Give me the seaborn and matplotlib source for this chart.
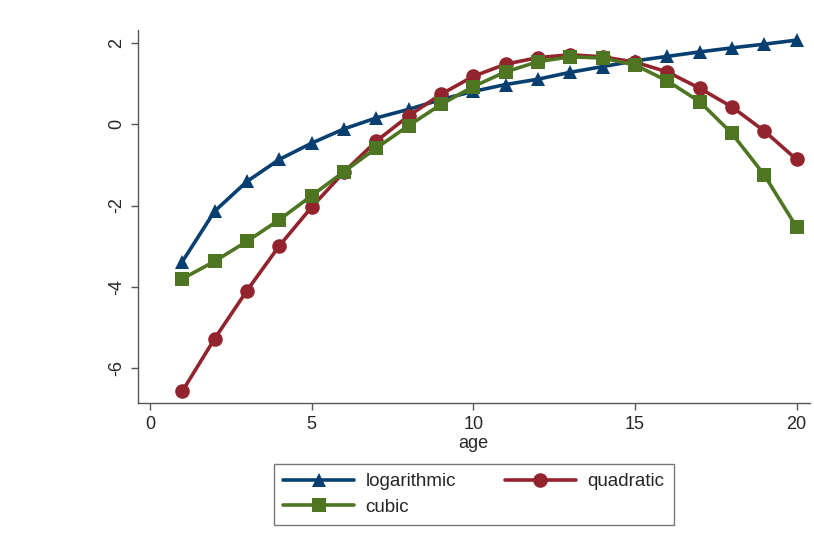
import matplotlib
matplotlib.use("Agg")
import matplotlib.pyplot as plt
import numpy as np
import pandas as pd
import seaborn as sns

# values
age = list(range(1, 21))
logarithmic = [-3.38, -2.14, -1.41, -0.87, -0.47, -0.12, 0.15, 0.36, 0.60, 0.80,
               0.97, 1.10, 1.27, 1.41, 1.55, 1.66, 1.77, 1.87, 1.96, 2.06]
quadratic = [-6.56, -5.27, -4.09, -2.99, -2.04, -1.18, -0.42, 0.20, 0.73, 1.17,
             1.47, 1.63, 1.70, 1.65, 1.52, 1.28, 0.88, 0.42, -0.17, -0.87]
cubic = [-3.80, -3.37, -2.88, -2.35, -1.76, -1.17, -0.59, -0.04, 0.48, 0.92,
         1.28, 1.53, 1.65, 1.62, 1.45, 1.06, 0.55, -0.23, -1.25, -2.53]

series = ["logarithmic", "quadratic", "cubic"]
colors = {"logarithmic": "#063f70", "quadratic": "#93232c", "cubic": "#4e7522"}
markers = {"logarithmic": "^", "quadratic": "o", "cubic": "s"}

df = pd.DataFrame({
    "age": age * 3,
    "value": logarithmic + quadratic + cubic,
    "model": ["logarithmic"] * 20 + ["quadratic"] * 20 + ["cubic"] * 20,
})

sns.set_theme(style="white")
plt.rcParams['font.family'] = ['Liberation Sans', 'DejaVu Sans']

fig = plt.figure(figsize=(8.14, 5.44), dpi=100)
ax = fig.add_axes([0.1695, 0.259, 0.825, 0.686])

sns.lineplot(data=df, x="age", y="value", hue="model", style="model",
             hue_order=series, style_order=series, palette=colors,
             markers=markers, dashes=False, linewidth=2.6, markersize=10.5,
             markeredgewidth=0, ax=ax, legend=True)

ax.set_xlim(-0.37, 20.4)
ax.set_ylim(-6.85, 2.31)
ax.set_xticks([0, 5, 10, 15, 20])
ax.set_yticks([-6, -4, -2, 0, 2])
ax.set_yticklabels(["-6", "-4", "-2", "0", "2"], rotation=90, va="center")
ax.tick_params(axis="both", direction="out", length=5, width=1, color="#555555",
               labelsize=13, pad=4, left=True, bottom=True)
ax.set_xlabel("age", fontsize=13, labelpad=2)
ax.set_ylabel("")

sns.despine(ax=ax)
for s in ["left", "bottom"]:
    ax.spines[s].set_color("#555555")
    ax.spines[s].set_linewidth(1)

# row-wise order like the reference: logarithmic, quadratic / cubic
handles, labels = ax.get_legend_handles_labels()
order = [0, 2, 1]
ax.legend([handles[i] for i in order], [labels[i] for i in order],
          loc="upper center", bbox_to_anchor=(0.5, -0.137),
          ncol=2, frameon=True, fancybox=False, edgecolor="#555555",
          fontsize=13.5, handlelength=3.8, columnspacing=2.6, borderpad=0.5,
          labelspacing=0.45, handletextpad=0.6)

fig.savefig("out.png", dpi=100)
